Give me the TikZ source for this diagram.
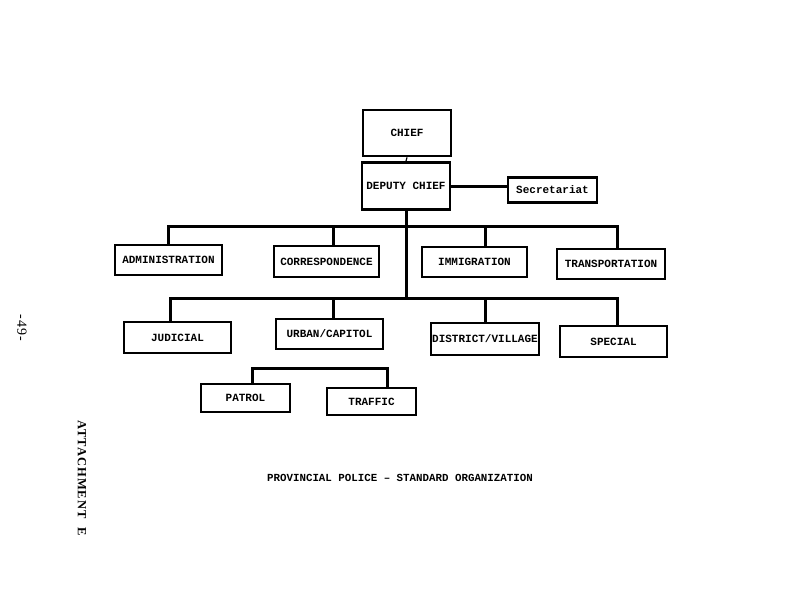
\documentclass[tikz,border=0pt]{standalone}
\usepackage{fontspec}
\setmonofont{Liberation Mono}
\newfontfamily\attachfont[LetterSpace=8]{Liberation Serif}
\usetikzlibrary{positioning}

\tikzset{
  unitbox/.style={draw, line width=2.8pt, inner sep=0pt, font=\ttfamily\bfseries\fontsize{11}{12}\selectfont},
  link/.style={line width=3pt},
  thinlink/.style={line width=1.2pt},
  sidetext/.style={rotate=-90, font=\attachfont\fontsize{12}{14}\selectfont}
}

\begin{document}
\begin{tikzpicture}[x=1pt, y=-1pt]
  \useasboundingbox[fill=white] (0,0) rectangle (792,600);

  % Top of the chain
  \node[unitbox, minimum width=88pt, minimum height=46pt] (chief) at (407,133) {CHIEF};
  \node[unitbox, minimum width=88pt, minimum height=47pt] (deputy) at (406,186) {DEPUTY CHIEF};
  \node[unitbox, minimum width=89pt, minimum height=25pt] (secr) at (552.5,190) {Secretariat};

  \draw[thinlink] (chief.south) -- (deputy.north);
  \draw[link] (deputy.east) -- (deputy.east -| secr.west);

  % First row of units
  \node[unitbox, minimum width=107pt, minimum height=30pt] (admin) at (168.5,260) {ADMINISTRATION};
  \node[unitbox, minimum width=105pt, minimum height=31pt] (corr) at (326.5,261.5) {CORRESPONDENCE};
  \node[unitbox, minimum width=105pt, minimum height=30pt] (immig) at (474.5,262) {IMMIGRATION};
  \node[unitbox, minimum width=108pt, minimum height=30pt] (transp) at (611,264) {TRANSPORTATION};

  \coordinate (busa1) at (168,226);
  \coordinate (busa2) at (333,226);
  \coordinate (busa3) at (485,226);
  \coordinate (busa4) at (617,226);
  \draw[link] (busa1 |- admin.north) -- (busa1) -- (busa4) -- (busa4 |- transp.north);
  \draw[link] (busa2) -- (busa2 |- corr.north);
  \draw[link] (busa3) -- (busa3 |- immig.north);

  % Second row of units
  \node[unitbox, minimum width=107pt, minimum height=31pt] (judicial) at (177.5,337.5) {JUDICIAL};
  \node[unitbox, minimum width=107pt, minimum height=30pt] (urban) at (329.5,334) {URBAN/CAPITOL};
  \node[unitbox, minimum width=108pt, minimum height=32pt] (district) at (485,339) {DISTRICT/VILLAGE};
  \node[unitbox, minimum width=107pt, minimum height=31pt] (special) at (613.5,341.5) {SPECIAL};

  \coordinate (busb1) at (170,298);
  \coordinate (busb2) at (333,298);
  \coordinate (busb3) at (485,298);
  \coordinate (busb4) at (617,298);
  \draw[link] (busb1 |- judicial.north) -- (busb1) -- (busb4) -- (busb4 |- special.north);
  \draw[link] (busb2) -- (busb2 |- urban.north);
  \draw[link] (busb3) -- (busb3 |- district.north);
  \draw[link] (deputy.south) -- (deputy.south |- busb1);

  % Under urban
  \node[unitbox, minimum width=89pt, minimum height=28pt] (patrol) at (245.5,398) {PATROL};
  \node[unitbox, minimum width=89pt, minimum height=27pt] (traffic) at (371.5,401.5) {TRAFFIC};

  \coordinate (busc1) at (252,368);
  \coordinate (busc2) at (387,368);
  \draw[link] (busc1 |- patrol.north) -- (busc1) -- (busc2) -- (busc2 |- traffic.north);

  % Caption and margin notes
  \node[font=\ttfamily\bfseries\fontsize{10.8}{12}\selectfont] (caption) at (400,478) {PROVINCIAL POLICE \textendash{} STANDARD ORGANIZATION};
  \node[sidetext, font=\attachfont\fontsize{14}{16}\selectfont] (page) at (22,328) {-49-};
  \node[sidetext, font=\attachfont\bfseries\fontsize{12.5}{14}\selectfont] (attach) at (82,478) {ATTACHMENT\hspace{0.7em}E};
\end{tikzpicture}
\end{document}
